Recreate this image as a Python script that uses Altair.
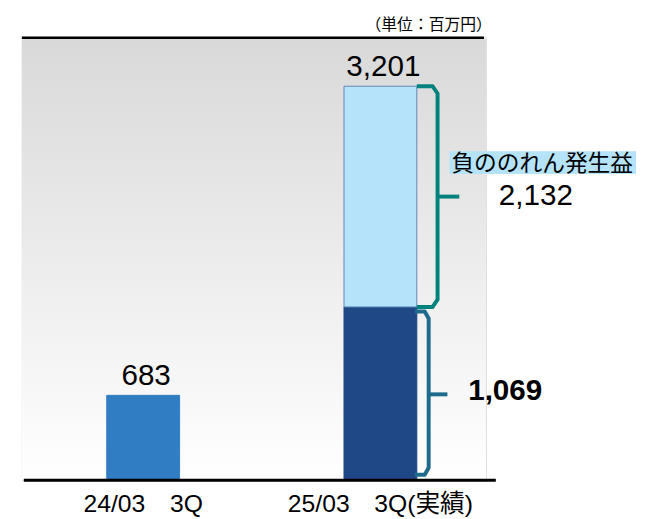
import altair as alt
import pandas as pd

# ---- data ----
periods = ["24/03\u30003Q", "25/03\u30003Q(実績)"]
prior_value = 683
base_value = 1069
gain_value = 2132
current_total = 3201
gain_label = "負ののれん発生益"
unit_label = "（単位：百万円）"

seg_period = [periods[0], periods[1], periods[1]]
seg_name = ["prior", "base", "gain"]
seg_low = [0, 0, base_value]
seg_high = [prior_value, base_value, base_value + gain_value]

total_period = [periods[0], periods[1]]
total_value = [prior_value, current_total]

# ---- styles ----
NUM_FONT = "Liberation Sans, Arial, Noto Sans CJK JP"
JP_FONT = "Noto Sans CJK JP"
W, H = 470, 449
seg_fill = ["#317dc4", "#1f4887", "#b4e3fa"]
seg_stroke = ["#317dc4", "#1f4887", "#5f86ba"]
UPPER_C = "#00827c"
LOWER_C = "#1f6b8e"

bars_df = pd.DataFrame({"period": seg_period, "seg": seg_name,
                        "low": seg_low, "high": seg_high})
tot_df = pd.DataFrame({"period": total_period, "value": total_value,
                       "label": [f"{v:,}" for v in total_value]})
one = pd.DataFrame({"k": [0]})

yscale = alt.Scale(domain=[0, prior_value, base_value, current_total],
                   range=[H, 363, 273.5, 50], nice=False)


def xscale():
    return alt.Scale(type="band", domain=periods, range=[86, 400],
                     paddingInner=0.693, paddingOuter=0)


gain_top = base_value + gain_value
gain_mid = (base_value + gain_top) / 2

# brace geometry (x in px, y anchored to the segment values)
du = 70
upper = [(400, gain_top), (416, gain_top), (421, gain_top - du),
         (421, base_value + du), (416, base_value), (400, base_value)]
lt, lb = base_value - 20, 45
lower = [(398, lt), (408, lt), (412, lt - 30), (412, lb + 55), (408, lb), (398, lb)]
brace_rows = []
for i, (px, v) in enumerate(upper):
    brace_rows.append({"brace": "upper", "o": i, "px": px, "v": v})
for i, (px, v) in enumerate(lower):
    brace_rows.append({"brace": "lower", "o": i, "px": px, "v": v})
brace_df = pd.DataFrame(brace_rows)

grad = alt.LinearGradient(gradient="linear",
                          stops=[alt.GradientStop(color="#d9d9d9", offset=0),
                                 alt.GradientStop(color="#ffffff", offset=1)],
                          x1=0, x2=0, y1=0, y2=1)

bg = alt.Chart(one).mark_rect(fill=grad).encode(
    x=alt.value(0), x2=alt.value(W), y=alt.value(2), y2=alt.value(H))

top_line = alt.Chart(one).mark_rule(color="black", strokeWidth=2.5).encode(
    x=alt.value(0), x2=alt.value(468), y=alt.value(1))

bars = alt.Chart(bars_df).mark_bar(strokeWidth=1).encode(
    x=alt.X("period:N", scale=xscale(), sort=periods,
            axis=alt.Axis(title=None, domain=False, ticks=False, labelAngle=0,
                          labelFont=NUM_FONT, labelFontSize=25, labelColor="black",
                          labelBaseline="alphabetic", labelPadding=32, labelLimit=0)),
    y=alt.Y("high:Q", scale=yscale, axis=None),
    y2="low:Q",
    color=alt.Color("seg:N", scale=alt.Scale(domain=seg_name, range=seg_fill), legend=None),
    stroke=alt.Stroke("seg:N", scale=alt.Scale(domain=seg_name, range=seg_stroke), legend=None),
)

base_line = alt.Chart(one).mark_rule(color="black", strokeWidth=3).encode(
    x=alt.value(2), x2=alt.value(480), y=alt.datum(0))

tot_text = alt.Chart(tot_df).mark_text(font=NUM_FONT, fontSize=30, color="black",
                                       baseline="alphabetic", dy=-10, dx=3).encode(
    x=alt.X("period:N", scale=xscale(), sort=periods, axis=None),
    y=alt.Y("value:Q"), text="label:N")

braces = alt.Chart(brace_df).mark_line(strokeWidth=4, strokeJoin="round", strokeCap="butt").encode(
    x=alt.X("px:Q", scale=None, axis=None),
    y=alt.Y("v:Q"),
    order="o:Q",
    detail="brace:N",
    color=alt.Color("brace:N", scale=alt.Scale(domain=["upper", "lower"],
                                               range=[UPPER_C, LOWER_C]), legend=None),
)

tip_u = alt.Chart(one).mark_rule(color=UPPER_C, strokeWidth=4).encode(
    x=alt.value(421), x2=alt.value(443), y=alt.datum(gain_mid))
tip_l = alt.Chart(one).mark_rule(color=LOWER_C, strokeWidth=4, yOffset=-87).encode(
    x=alt.value(412), x2=alt.value(431), y=alt.datum(0))

hl = alt.Chart(one).mark_rect(color="#b4e3fa", yOffset=-46, y2Offset=-23).encode(
    x=alt.value(433), x2=alt.value(622), y=alt.datum(gain_mid), y2=alt.datum(gain_mid))

gain_name = alt.Chart(one).mark_text(font=JP_FONT, fontSize=23, color="black", align="left",
                                     baseline="alphabetic", dy=-26).encode(
    x=alt.value(435), y=alt.datum(gain_mid), text=alt.value(gain_label))
gain_num = alt.Chart(one).mark_text(font=NUM_FONT, fontSize=30, color="black", align="left",
                                    baseline="alphabetic", dy=9).encode(
    x=alt.value(483), y=alt.datum(gain_mid), text=alt.value(f"{gain_value:,}"))
base_num = alt.Chart(one).mark_text(font=NUM_FONT, fontSize=30, fontWeight="bold", color="black",
                                    align="left", baseline="alphabetic", dy=-81).encode(
    x=alt.value(452), y=alt.datum(0), text=alt.value(f"{base_value:,}"))
unit = alt.Chart(one).mark_text(font=JP_FONT, fontSize=16, color="black", align="right",
                                baseline="alphabetic").encode(
    x=alt.value(476), y=alt.value(-7), text=alt.value(unit_label))

chart = alt.layer(bg, top_line, bars, base_line, tot_text, braces, tip_u, tip_l,
                  hl, gain_name, gain_num, base_num, unit).resolve_scale(
    x="independent", color="independent").properties(
    width=W, height=H,
    autosize=alt.AutoSizeParams(type="none"),
    padding={"left": 14, "top": 26, "right": 156, "bottom": 36},
).configure_view(stroke=None).configure(background="white")

chart.save("out.html", embed_options={"renderer": "svg", "actions": False})
